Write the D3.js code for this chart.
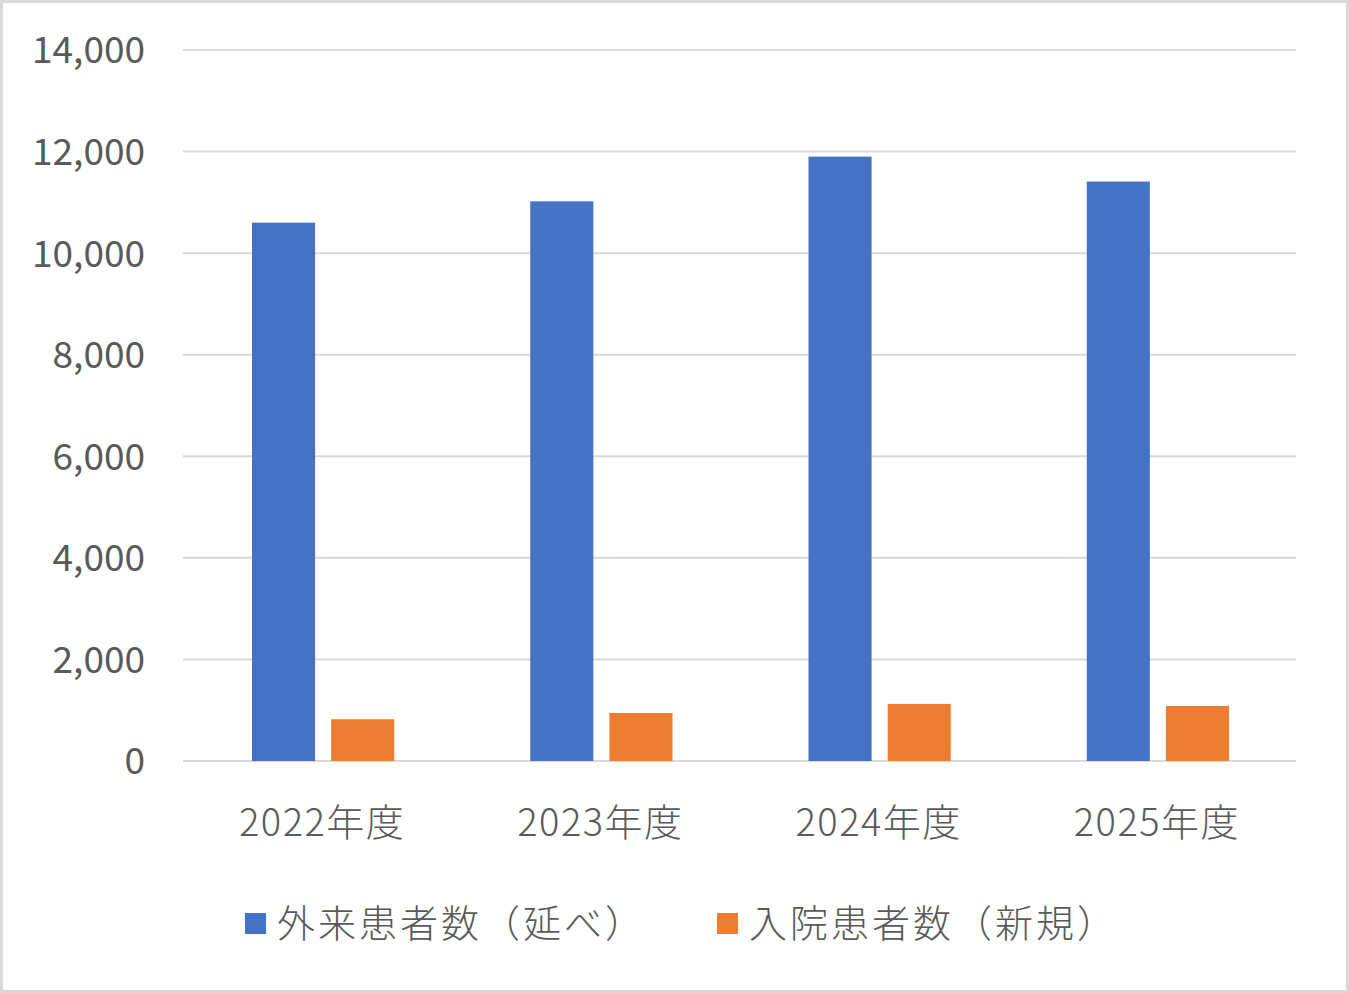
<!DOCTYPE html>
<html>
<head>
<meta charset="utf-8">
<script src="https://cdn.jsdelivr.net/npm/d3@7"></script>
<style>
  html, body { margin: 0; padding: 0; background: #fff; }
  svg { display: block; }
  text { font-family: "Noto Sans CJK JP", "Noto Sans", sans-serif; fill: #595959; font-weight: 300; }
</style>
</head>
<body>
<svg id="canvas" width="1349" height="993"></svg>
<script>
// chart data
let years = ['2022年度', '2023年度', '2024年度', '2025年度']
let seriesNames = ['外来患者数（延べ）', '入院患者数（新規）']
let outpatients = [10600, 11020, 11900, 11410]
let inpatients = [822, 946, 1124, 1084]
let yTicks = [0, 2000, 4000, 6000, 8000, 10000, 12000, 14000]
let colors = ['#4472C4', '#ED7D31']

let width = 1349,
    height = 993
let margin = { top: 50, right: 53, bottom: 232, left: 183 }

let canvas = d3.select('#canvas')

// chart border
canvas.append('rect')
  .attr('x', 1.5).attr('y', 1.5)
  .attr('width', width - 3).attr('height', height - 3)
  .attr('fill', '#fff')
  .attr('stroke', '#d9d9d9')
  .attr('stroke-width', 3)

let x0 = d3.scaleBand()
  .domain(years)
  .range([margin.left, width - margin.right])
  .padding(0)

let x1 = d3.scaleBand()
  .domain(seriesNames)
  .range([69, x0.bandwidth() - 67])
  .paddingInner(0.203)

let y = d3.scaleLinear()
  .domain([0, 14000])
  .range([height - margin.bottom, margin.top])

// gridlines
canvas.append('g')
  .selectAll('line')
  .data(yTicks)
  .enter()
  .append('line')
  .attr('x1', margin.left)
  .attr('x2', width - margin.right)
  .attr('y1', d => y(d))
  .attr('y2', d => y(d))
  .attr('stroke', '#d9d9d9')
  .attr('stroke-width', 2)

// y axis labels
let yAxis = d3.axisLeft(y)
  .tickValues(yTicks)
  .tickSize(0)
  .tickPadding(38)
  .tickFormat(d3.format(','))

canvas.append('g')
  .attr('transform', 'translate(' + margin.left + ',0)')
  .call(yAxis)
  .call(g => g.select('.domain').remove())
  .selectAll('text')
  .attr('font-size', 37)
  .attr('dy', '0.35em')
  .attr('fill', '#595959')
  .style('font-family', '"Noto Sans CJK JP", "Noto Sans", sans-serif')
  .style('font-weight', 400)

// bars
let rows = years.map((yr, i) => ({ year: yr, values: [outpatients[i], inpatients[i]] }))

let groups = canvas.append('g')
  .selectAll('g')
  .data(rows)
  .enter()
  .append('g')
  .attr('transform', d => 'translate(' + x0(d.year) + ',0)')

groups.selectAll('rect')
  .data(d => d.values.map((v, j) => ({ name: seriesNames[j], value: v, idx: j })))
  .enter()
  .append('rect')
  .attr('x', d => x1(d.name))
  .attr('width', x1.bandwidth())
  .attr('y', d => y(d.value))
  .attr('height', d => y(0) - y(d.value))
  .attr('fill', d => colors[d.idx])

// x axis labels
let xAxis = d3.axisBottom(x0).tickSize(0).tickPadding(48)

canvas.append('g')
  .attr('transform', 'translate(0,' + y(0) + ')')
  .call(xAxis)
  .call(g => g.select('.domain').remove())
  .selectAll('text')
  .attr('font-size', 38)
  .attr('letter-spacing', 1.5)
  .attr('fill', '#595959')
  .style('font-family', '"Noto Sans CJK JP", "Noto Sans", sans-serif')

// legend
let legendX = [245, 717]
let legend = canvas.append('g')
  .selectAll('g')
  .data(seriesNames)
  .enter()
  .append('g')
  .attr('transform', (d, i) => 'translate(' + legendX[i] + ',913)')

legend.append('rect')
  .attr('width', 21)
  .attr('height', 21)
  .attr('fill', (d, i) => colors[i])

legend.append('text')
  .attr('x', 32)
  .attr('y', 11)
  .attr('dy', '0.35em')
  .attr('font-size', 38)
  .attr('letter-spacing', 3)
  .text(d => d)
</script>
</body>
</html>
